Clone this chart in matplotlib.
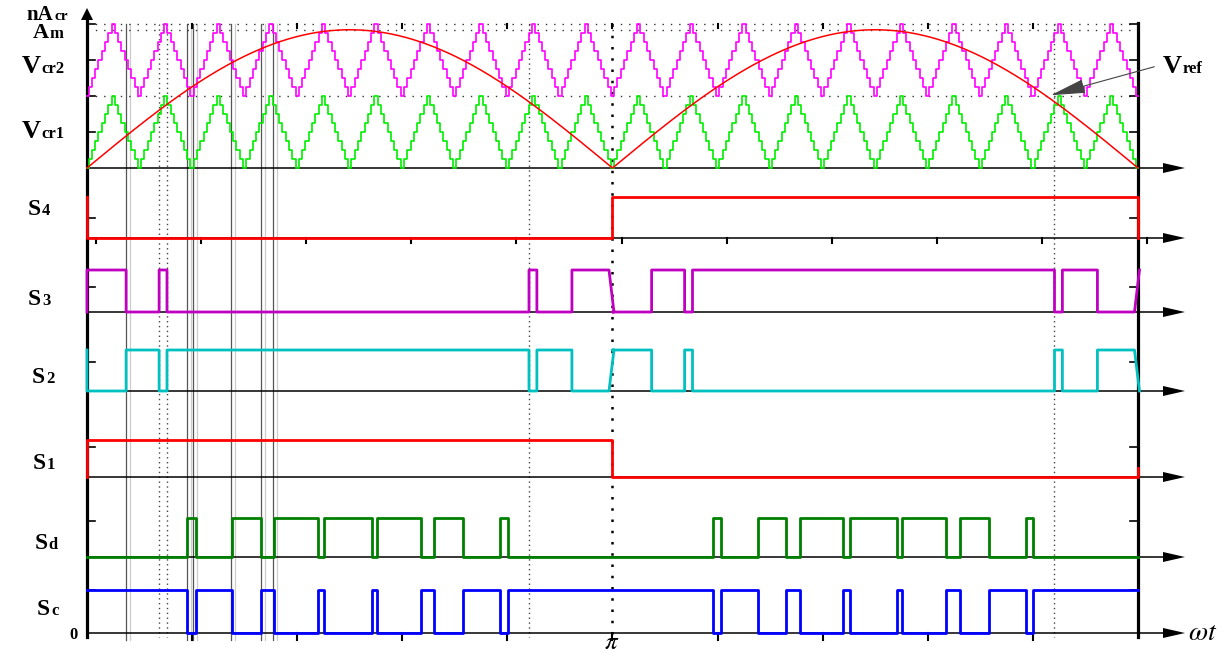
import numpy as np
import matplotlib
matplotlib.use("Agg")
import matplotlib.pyplot as plt

plt.rcParams['font.family'] = ['Liberation Serif', 'DejaVu Serif']
plt.rcParams['mathtext.fontset'] = 'stix'

# ---- data (angles in degrees) ----
carrier_cycles = 20          # triangle periods over 0..2pi
Am = 1.92                    # reference amplitude (carrier height = 1)
s3_edges = [13.4, 24.7, 27.4, 151.4, 154.1, 166.1]   # S3 toggles, first half
s3_slant = (-1.2, 0.5)       # slanted edge around pi / 2pi
sd_edges = [34.3, 37.3, 49.7, 59.6, 64.1, 79.1, 81.2, 97.6, 99.3,
            114.4, 118.9, 128.8, 141.5, 144.2]        # Sd toggles, first half
vlines_solid = [13.4, 34.3, 36.3, 49.3, 59.6, 63.7]
vlines_dotted = [24.7, 27.4, 151.4, 331.3]

# ---- layout (pixel rows of the original figure) ----
W, H = 1228, 653
X0, X1 = 87, 1138
TOP_BASE, TOP_UNIT = 168, 72
# name: baseline, high level, tick
rows = {
    'S4': (238, 197, 218),
    'S3': (312, 270, 287),
    'S2': (391, 350, 362),
    'S1': (477, 440, 447),
    'Sd': (557, 518, 521),
    'Sc': (633, 590, 590),
}


def px2deg(p):
    return (p - X0) * 360.0 / (X1 - X0)


def half_wave(edges, start, x0, slant=None):
    xs, ys, lev = [x0], [start], start
    for e in edges:
        xs += [x0 + e, x0 + e]
        ys += [lev, 1 - lev]
        lev = 1 - lev
    if slant is None:
        xs.append(x0 + 180)
        ys.append(lev)
    else:
        xs += [x0 + 180 + slant[0], x0 + 180 + slant[1]]
        ys += [lev, 1 - lev]
    return xs, ys


def lvl(name, ys):
    base, high, _ = rows[name]
    return base - np.asarray(ys) * (base - high)


fig = plt.figure(figsize=(W / 100, H / 100), dpi=100)
ax = fig.add_axes([0, 0, 1, 1])
ax.set_xlim(px2deg(0), px2deg(W))
ax.set_ylim(H, 0)
ax.axis('off')

# vertical guide lines
for v in vlines_solid:
    ax.plot([v + 1.4, v + 1.4], [24, 640], color='#cccccc', lw=0.9, zorder=1)
    ax.plot([v, v], [24, 640], color='#555555', lw=0.9, zorder=1)
for v in vlines_dotted:
    ax.plot([v, v], [24, 637], color='#444444', lw=1.0, ls=(0, (1, 2.5)), zorder=1)
ax.plot([180, 180], [24, 640], color='black', lw=1.8, ls=(0, (1, 3.5)), zorder=1)

# horizontal dotted levels in top panel
for yy in [TOP_BASE - 2 * TOP_UNIT, TOP_BASE - Am * TOP_UNIT, TOP_BASE - TOP_UNIT]:
    ax.plot([0, 360], [yy, yy], color='#333333', lw=1.0, ls=(0, (1, 5)), zorder=1)

# baselines with arrow heads
bases = [TOP_BASE] + [r[0] for r in rows.values()]
for b in bases:
    ax.plot([0, px2deg(1168)], [b, b], color='black', lw=1.1, zorder=2)
    ax.fill([px2deg(1163), px2deg(1185), px2deg(1163)], [b - 5, b, b + 5],
            color='black', lw=0, zorder=2)

# left and right vertical axes
ax.plot([0, 0], [19, 637], color='black', lw=2.3, zorder=2)
ax.fill([px2deg(81), px2deg(87), px2deg(93)], [20, 8, 20], color='black', lw=0, zorder=2)
ax.plot([360, 360], [23, 637], color='black', lw=2.3, zorder=2)

# ticks
tick_rows = [TOP_BASE - 2 * TOP_UNIT, TOP_BASE - 1.5 * TOP_UNIT, TOP_BASE - TOP_UNIT,
             TOP_BASE - 0.5 * TOP_UNIT] + [r[2] for r in rows.values()]
for t in tick_rows:
    ax.plot([0, px2deg(95)], [t, t], color='black', lw=1.2, zorder=2)
    ax.plot([px2deg(1130), 360], [t, t], color='black', lw=1.2, zorder=2)
for k in range(1, 10):
    ax.plot([36 * k, 36 * k], [633, 640], color='black', lw=1.5, zorder=2)
    ax.plot([36 * k, 36 * k], [24, 28], color='black', lw=1.5, zorder=2)
for k in range(0, 11):
    ax.plot([3.1 + 36 * k] * 2, [238, 243], color='black', lw=1.5, zorder=2)

# carriers (stepped triangles) and reference
P = 360.0 / carrier_cycles
dt = P / 16
t = np.arange(0, 360 + dt / 2, dt)
tri = 1 - np.abs(2 * ((t / P + 1e-9) % 1) - 1)
ax.step(t, TOP_BASE - TOP_UNIT * (tri + 1), where='mid', color='#ff00ff', lw=1.2, zorder=3)
ax.step(t, TOP_BASE - TOP_UNIT * tri, where='mid', color='#00ee00', lw=1.2, zorder=3)
tr = np.arange(0, 360.01, 0.5)
vref = Am * np.abs(np.sin(np.radians(tr)))
ax.plot(tr, TOP_BASE - TOP_UNIT * vref, color='#ff0000', lw=1.1, zorder=4)

# switching signals
x1, y1 = half_wave(s3_edges, 1, 0, s3_slant)
x2, y2 = half_wave(s3_edges, 0, 180, s3_slant)
s3_x, s3_y = [0] + x1 + x2, [0] + y1 + y2
ax.plot(s3_x, lvl('S3', s3_y), color='#c000c0', lw=2.0, zorder=5)
ax.plot(s3_x, lvl('S2', 1 - np.array(s3_y)), color='#00c0c0', lw=2.0, zorder=5)

x1, y1 = half_wave(sd_edges, 0, 0)
x2, y2 = half_wave(sd_edges, 0, 180)
sd_x, sd_y = x1 + x2, y1 + y2
ax.plot(sd_x, lvl('Sd', sd_y), color='#008000', lw=2.0, zorder=5)
ax.plot(sd_x, lvl('Sc', 1 - np.array(sd_y)), color='#0000ff', lw=2.0, zorder=5)

s4_x, s4_y = [0, 0, 180, 180, 360, 360], [1, 0, 0, 1, 1, 0]
s1_x, s1_y = [0, 0, 180, 180, 360, 360], [0, 1, 1, 0, 0, 0.25]
ax.plot(s4_x, lvl('S4', s4_y), color='#ff0000', lw=2.0, zorder=5)
ax.plot(s1_x, lvl('S1', s1_y), color='#ff0000', lw=2.0, zorder=5)

# labels: big letter followed by a small suffix on the same baseline
renderer = fig.canvas.get_renderer()


def label(cx, y, main, sub, size=17, subsize=12):
    t1 = fig.text(0, 1 - y / H, main, fontsize=size, fontweight='bold', va='baseline')
    t2 = fig.text(0, 1 - y / H, sub, fontsize=subsize, fontweight='bold', va='baseline')
    w1 = t1.get_window_extent(renderer).width
    w2 = t2.get_window_extent(renderer).width
    x = cx - (w1 + w2 + 1) / 2
    t1.set_x(x / W)
    t2.set_x((x + w1 + 1) / W)


label(47, 20, 'nA', 'cr', size=15, subsize=11)
label(48, 38, 'A', 'm', size=16, subsize=12)
label(43, 73, 'V', 'cr2', size=19)
label(43, 138, 'V', 'cr1', size=19)
label(39, 215, 'S', '4')
label(39, 305, 'S', '3')
label(43, 383, 'S', '2')
label(44, 469, 'S', '1')
label(46, 549, 'S', 'd')
label(48, 615, 'S', 'c')
label(1183, 73, 'V', 'ref', size=19)
fig.text(73 / W, 1 - 639 / H, '0', fontsize=12, fontweight='bold', va='baseline', ha='center')
fig.text(1188 / W, 1 - 640 / H, r'$\omega t$', fontsize=20, va='baseline')
fig.text(612 / W, 1 - 649 / H, r'$\pi$', fontsize=18, va='baseline', ha='center')

ax.annotate('', xy=(px2deg(1048), 96), xytext=(px2deg(1157), 66),
            arrowprops=dict(arrowstyle='-|>,head_length=1.1,head_width=0.22',
                            color='#444444', lw=0.8, mutation_scale=20), zorder=6)

fig.savefig('out.png', dpi=100)
